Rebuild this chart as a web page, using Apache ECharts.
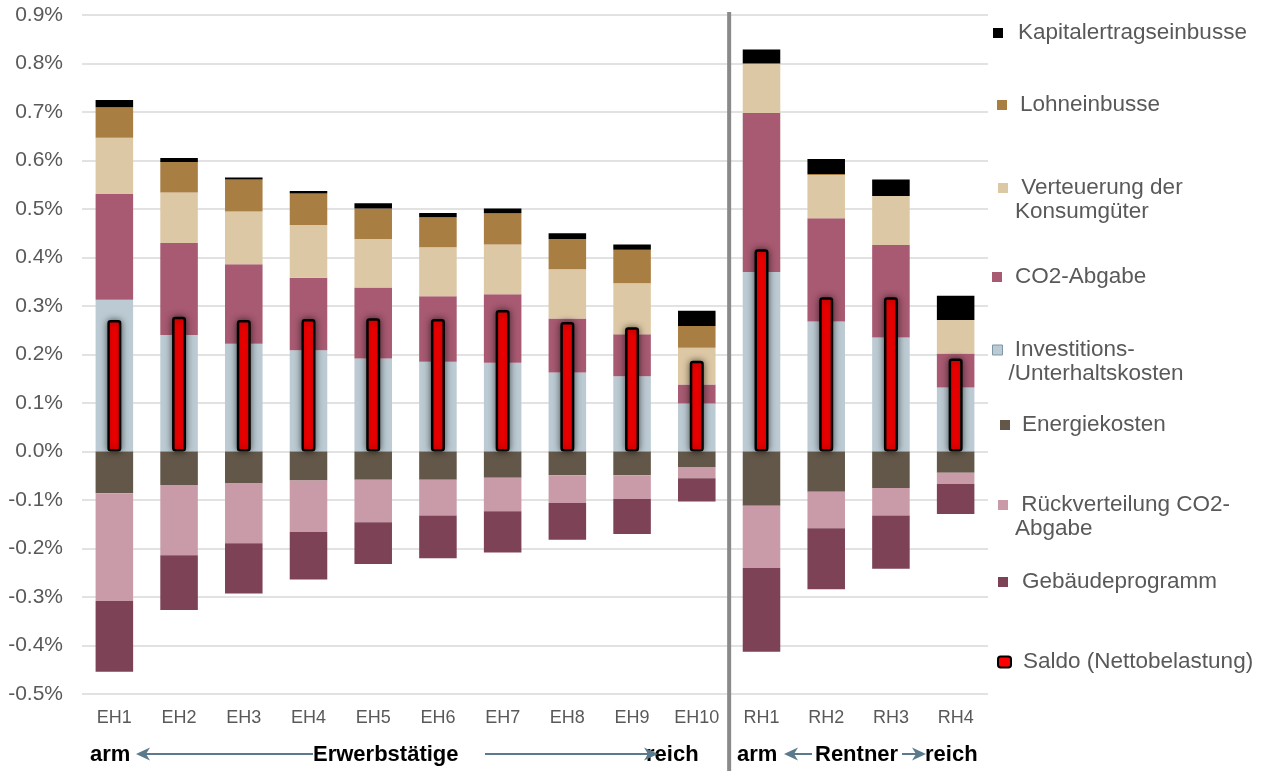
<!DOCTYPE html>
<html>
<head>
<meta charset="utf-8">
<script src="https://cdn.jsdelivr.net/npm/echarts@6/dist/echarts.min.js"></script>
<style>
  html, body { margin: 0; padding: 0; background: #fff; }
  #chart { width: 1264px; height: 771px; }
</style>
</head>
<body>
<div id="chart"></div>
<script>
// Household groups: employed (EH1 poor .. EH10 rich) and pensioners (RH1 .. RH4)
const categories = ['EH1','EH2','EH3','EH4','EH5','EH6','EH7','EH8','EH9','EH10','RH1','RH2','RH3','RH4'];

// Burden components in % of income
const kapitalertrag = [0.015, 0.008, 0.004, 0.005, 0.011, 0.009, 0.010, 0.012, 0.011, 0.031, 0.029, 0.031, 0.034, 0.050];
const lohneinbusse  = [0.063, 0.063, 0.066, 0.065, 0.063, 0.062, 0.064, 0.062, 0.069, 0.045, 0, 0.002, 0, 0];
const verteuerung   = [0.116, 0.104, 0.109, 0.109, 0.100, 0.101, 0.103, 0.102, 0.105, 0.076, 0.102, 0.089, 0.101, 0.069];
const co2Abgabe     = [0.218, 0.190, 0.164, 0.149, 0.146, 0.135, 0.141, 0.111, 0.087, 0.039, 0.328, 0.213, 0.191, 0.070];
const investition   = [0.313, 0.240, 0.222, 0.209, 0.192, 0.185, 0.183, 0.163, 0.155, 0.099, 0.370, 0.268, 0.235, 0.132];
// Relief components (negative)
const energiekosten = [-0.086, -0.069, -0.066, -0.060, -0.058, -0.058, -0.054, -0.049, -0.049, -0.032, -0.112, -0.083, -0.075, -0.044];
const rueckvert     = [-0.222, -0.145, -0.123, -0.106, -0.088, -0.074, -0.069, -0.057, -0.049, -0.023, -0.128, -0.075, -0.057, -0.023];
const gebaeude      = [-0.146, -0.113, -0.104, -0.098, -0.086, -0.088, -0.085, -0.076, -0.072, -0.048, -0.173, -0.126, -0.110, -0.062];
// Net burden
const saldo         = [0.271, 0.278, 0.271, 0.273, 0.275, 0.273, 0.292, 0.267, 0.256, 0.187, 0.417, 0.318, 0.318, 0.192];

// Y axis ticks
const yMin = -0.5, yMax = 0.9, yStep = 0.1;

const FONT = '"Liberation Sans", Arial, sans-serif';
const LEG_COLOR = '#595959';

const chart = echarts.init(document.getElementById('chart'), null, { renderer: 'canvas' });

function stackBar(name, data, color) {
  return {
    name: name, type: 'bar', stack: 'total', xAxisIndex: 0,
    barWidth: '58%', data: data,
    itemStyle: { color: color },
    emphasis: { disabled: true }
  };
}

// one legend block per entry so each label sits at its own height;
// two-line labels get an empty leading line so the first text line is level with the icon
function legendEntry(name, text, left, cy, padLeft, twoLines, extra) {
  const lh = 24;
  const base = {
    orient: 'vertical', left: left, top: twoLines ? cy - 36 : cy - 12,
    padding: 0, itemWidth: 10, itemHeight: 10, icon: 'rect',
    selectedMode: false,
    data: [name],
    formatter: function () { return twoLines ? '\n' + text : text; },
    textStyle: {
      color: LEG_COLOR, fontSize: 22.5, lineHeight: lh, fontFamily: FONT,
      padding: [0, 0, 0, padLeft]
    }
  };
  return Object.assign(base, extra || {});
}

const NB = '\u00a0';

const option = {
  backgroundColor: '#ffffff',
  animation: false,
  grid: { left: 82, right: 276, top: 15, bottom: 77, containLabel: false },
  xAxis: [
    {
      type: 'category', data: categories, gridIndex: 0,
      axisLine: { show: false, onZero: false },
      axisTick: { show: false },
      splitLine: { show: false },
      axisLabel: { color: '#595959', fontSize: 18, fontFamily: FONT, margin: 15, interval: 0 }
    },
    {
      type: 'category', data: categories, gridIndex: 0, show: false,
      axisLine: { onZero: false }
    }
  ],
  yAxis: {
    type: 'value', min: yMin, max: yMax, interval: yStep,
    axisLine: { show: false }, axisTick: { show: false },
    splitLine: { lineStyle: { color: '#d9d9d9', width: 1.5 } },
    axisLabel: {
      color: '#595959', fontSize: 21, fontFamily: FONT, margin: 19,
      formatter: function (v) { if (Math.abs(v) < 1e-9) v = 0; return v.toFixed(1) + '%'; }
    }
  },
  legend: [
    legendEntry('Kapitalertragseinbusse', 'Kapitalertragseinbusse', 993, 33, 10, false),
    legendEntry('Lohneinbusse', 'Lohneinbusse', 997, 105, 8, false),
    legendEntry('Verteuerung der Konsumgüter', NB + 'Verteuerung der\nKonsumgüter', 998, 188, 2, true),
    legendEntry('CO2-Abgabe', 'CO2-Abgabe', 992, 277, 8, false),
    legendEntry('Investitions-/Unterhaltskosten', NB + 'Investitions-\n/Unterhaltskosten', 992, 350, 1, true,
      { data: [{ name: 'Investitions-/Unterhaltskosten', itemStyle: { borderColor: '#7f97a5', borderWidth: 1 } }] }),
    legendEntry('Energiekosten', 'Energiekosten', 1000, 425, 7, false),
    legendEntry('Rückverteilung CO2-Abgabe', NB + 'Rückverteilung CO2-\nAbgabe', 998, 505, 2, true),
    legendEntry('Gebäudeprogramm', 'Gebäudeprogramm', 998, 582, 9, false),
    legendEntry('Saldo (Nettobelastung)', 'Saldo (Nettobelastung)', 997, 662, 7, false,
      { icon: 'roundRect', itemWidth: 13, itemHeight: 11 })
  ],
  series: [
    stackBar('Investitions-/Unterhaltskosten', investition, '#bccbd3'),
    stackBar('CO2-Abgabe', co2Abgabe, '#a75a71'),
    stackBar('Verteuerung der Konsumgüter', verteuerung, '#ddc8a5'),
    stackBar('Lohneinbusse', lohneinbusse, '#a97e43'),
    stackBar('Kapitalertragseinbusse', kapitalertrag, '#000000'),
    stackBar('Energiekosten', energiekosten, '#625748'),
    stackBar('Rückverteilung CO2-Abgabe', rueckvert, '#c99ba8'),
    stackBar('Gebäudeprogramm', gebaeude, '#7d4256'),
    {
      name: 'Saldo (Nettobelastung)', type: 'bar', xAxisIndex: 1,
      barWidth: 14, data: saldo, z: 5,
      itemStyle: {
        color: '#ff0000', borderColor: '#000000', borderWidth: 2.5, borderRadius: 2,
        shadowBlur: 7, shadowColor: 'rgba(0,0,0,0.55)'
      },
      emphasis: { disabled: true }
    }
  ]
};

chart.setOption(option);

// separator between employed and pensioner groups, plus the arm/reich captions
const xEH10 = chart.convertToPixel({ xAxisIndex: 0 }, 'EH10');
const xRH1 = chart.convertToPixel({ xAxisIndex: 0 }, 'RH1');
const sepX = (xEH10 + xRH1) / 2;

const ARROW = '#5b7a8c';
const CAP_FONT = 'bold 22px ' + FONT;
const capY = 755, lineY = 754;

function caption(text, x) {
  return { type: 'text', x: x, y: capY, z: 10,
    style: { text: text, font: CAP_FONT, fill: '#000000', verticalAlign: 'middle', align: 'left' } };
}
function seg(x1, x2) {
  return { type: 'line', z: 11, shape: { x1: x1, y1: lineY, x2: x2, y2: lineY },
    style: { stroke: ARROW, lineWidth: 2 } };
}
// dir -1 points left, +1 points right; tip at x
function head(tip, dir) {
  const b = tip - dir * 14, n = tip - dir * 10;
  return { type: 'polygon', z: 12,
    shape: { points: [[tip, lineY], [b, lineY - 6.5], [n, lineY], [b, lineY + 6.5]] },
    style: { fill: ARROW } };
}

chart.setOption({
  graphic: [
    { type: 'line', z: 20, shape: { x1: sepX, y1: 12, x2: sepX, y2: 771 },
      style: { stroke: '#8a8a8a', lineWidth: 4 } },
    caption('arm', 90),
    head(136, -1), seg(146, 313),
    caption('Erwerbstätige', 313),
    seg(485, 648), caption('reich', 646), head(658, 1),
    caption('arm', 737),
    head(784, -1), seg(793, 812),
    caption('Rentner', 815),
    seg(902, 916), caption('reich', 925), head(926, 1)
  ]
});
</script>
</body>
</html>
